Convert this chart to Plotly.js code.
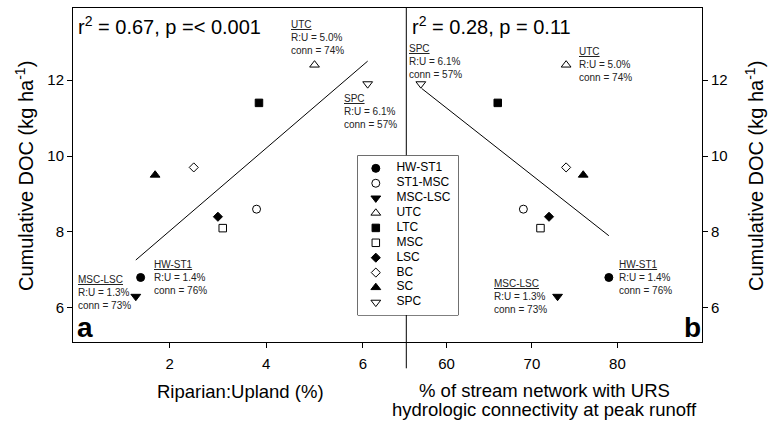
<!DOCTYPE html>
<html><head><meta charset="utf-8">
<script src="https://cdn.plot.ly/plotly-3.0.1.min.js"></script>
<style>html,body{margin:0;padding:0;background:#fff}#chart{width:775px;height:422px}</style>
</head><body><div id="chart"></div>
<script>
// ---- data ----
const sites = ['HW-ST1','ST1-MSC','MSC-LSC','UTC','LTC','MSC','LSC','BC','SC','SPC'];
const riparianUpland = [1.4, 3.8, 1.3, 5.0, 3.85, 3.1, 3.0, 2.5, 1.7, 6.1];
const connectivity = [79, 69, 73, 74, 66, 71, 72, 74, 76, 57];
const cumulativeDOC = [6.8, 8.6, 6.3, 12.4, 11.4, 8.1, 8.4, 9.7, 9.5, 11.9];
const fitRUx = [1.3, 6.1];
const fitRUy = [7.26, 12.5];
const fitConnX = [57.1, 79.0];
const fitConnY = [11.78, 7.9];
const xTicksRU = [2, 4, 6];
const xTicksConn = [60, 70, 80];
const yTicksDOC = [6, 8, 10, 12];
const statsRU = 'r<sup>2</sup> = 0.67, p =&lt; 0.001';
const statsConn = 'r<sup>2</sup> = 0.28, p = 0.11';
const labeledSites = ['UTC', 'SPC', 'HW-ST1', 'MSC-LSC'];
const labelRU = ['5.0', '6.1', '1.4', '1.3'];
const labelConn = ['74', '57', '76', '73'];
const xTitleRU = 'Riparian:Upland (%)';
const xTitleConn = ['% of stream network with URS', 'hydrologic connectivity at peak runoff'];
const yTitle = 'Cumulative DOC (kg ha<sup>-1</sup>)';

// ---- styles ----
const FONT = 'Liberation Sans, Arial, Helvetica, sans-serif';
const symbolOf = {
  'HW-ST1':'circle','ST1-MSC':'circle-open','MSC-LSC':'triangle-down','UTC':'triangle-up-open',
  'LTC':'square','MSC':'square-open','LSC':'diamond','BC':'diamond-open','SC':'triangle-up','SPC':'triangle-down-open'
};
const sizeOf = s => s.startsWith('circle') ? 8 : s.startsWith('square') ? 7.5 : s.startsWith('diamond') ? 7 : 8.5;
const syms = sites.map(s => symbolOf[s]);
const sizes = syms.map(sizeOf);
const marker = {symbol: syms, size: sizes, color: '#000', opacity: 1, line: {color: '#000', width: 1}};

// pixel -> paper helpers (plot area 73..702 x 8..342)
const L = 73, R = 702, T = 8, B = 342, W = R - L, H = B - T;
const px = v => (v - L) / W, py = v => (B - v) / H;
const split = px(406.3);

const traces = [
  {x: fitRUx, y: fitRUy, mode: 'lines', line: {color: '#000', width: 1}, xaxis: 'x', yaxis: 'y', hoverinfo: 'skip'},
  {x: riparianUpland, y: cumulativeDOC, mode: 'markers', marker: marker, text: sites, xaxis: 'x', yaxis: 'y', cliponaxis: false},
  {x: fitConnX, y: fitConnY, mode: 'lines', line: {color: '#000', width: 1}, xaxis: 'x2', yaxis: 'y2', hoverinfo: 'skip'},
  {x: connectivity, y: cumulativeDOC, mode: 'markers', marker: marker, text: sites, xaxis: 'x2', yaxis: 'y2', cliponaxis: false},
  // legend built on its own hidden axes
  {x: sites.map(() => 0.18), y: sites, mode: 'markers', marker: marker, xaxis: 'x3', yaxis: 'y3', cliponaxis: false},
  {x: sites.map(() => 0.385), y: sites, mode: 'text', text: sites, textposition: 'middle right',
   textfont: {family: FONT, size: 12, color: '#000'}, xaxis: 'x3', yaxis: 'y3', cliponaxis: false}
];

const axisBase = {
  showgrid: false, zeroline: false, showline: true, linecolor: '#000', linewidth: 1,
  ticks: 'outside', ticklen: 5, tickwidth: 1, tickcolor: '#000',
  tickfont: {family: FONT, size: 15, color: '#000'}, fixedrange: true
};

const ann = [];
const txt = (text, x, y, opts) => ann.push(Object.assign({
  text: text, xref: 'paper', yref: 'paper', x: px(x), y: py(y), showarrow: false, align: 'left',
  xanchor: 'left', yanchor: 'middle', font: {family: FONT, size: 10, color: '#222'}, borderpad: 0
}, opts || {}));

// stats
txt(statsRU, 77, 25, {font: {family: FONT, size: 20, color: '#000'}});
txt(statsConn, 411, 25, {font: {family: FONT, size: 20, color: '#000'}});

// site labels
const labelPosRU = {'UTC': [290, 37.5], 'SPC': [342.5, 111.5], 'HW-ST1': [153, 277.3], 'MSC-LSC': [76.5, 292.5]};
const labelPosConn = {'UTC': [578.3, 65], 'SPC': [407.5, 61.5], 'HW-ST1': [618.3, 277.7], 'MSC-LSC': [493, 296.7]};
labeledSites.forEach((s, i) => {
  const t = '<u>' + s + '</u><br>R:U = ' + labelRU[i] + '%<br>conn = ' + labelConn[i] + '%';
  txt(t, labelPosRU[s][0], labelPosRU[s][1]);
  txt(t, labelPosConn[s][0], labelPosConn[s][1]);
});

// panel letters
txt('<b>a</b>', 76, 343.5, {yanchor: 'bottom', font: {family: FONT, size: 28, color: '#000'}});
txt('<b>b</b>', 702, 344, {xanchor: 'right', yanchor: 'bottom', font: {family: FONT, size: 28, color: '#000'}});

// axis titles
const titleFont = {family: FONT, size: 18.5, color: '#000'};
txt(xTitleRU, 240, 391, {xanchor: 'center', align: 'center', font: titleFont});
txt(xTitleConn[0], 544, 390, {xanchor: 'center', align: 'center', font: titleFont});
txt(xTitleConn[1], 544, 409.3, {xanchor: 'center', align: 'center', font: titleFont});
txt(yTitle, 24, 176, {xanchor: 'center', align: 'center', textangle: -90, font: {family: FONT, size: 20, color: '#000'}});
txt(yTitle, 754, 176, {xanchor: 'center', align: 'center', textangle: -90, font: {family: FONT, size: 20, color: '#000'}});

const layout = {
  width: 775, height: 422,
  margin: {l: L, r: 775 - R, t: T, b: 422 - B, pad: 0},
  paper_bgcolor: '#fff', plot_bgcolor: '#fff',
  showlegend: false,
  font: {family: FONT, color: '#000'},
  xaxis: Object.assign({}, axisBase, {domain: [0, split], range: [0, 6.9], tickvals: xTicksRU, mirror: true, anchor: 'y', ticklabelstandoff: 3}),
  yaxis: Object.assign({}, axisBase, {domain: [0, 1], range: [5.1, 13.9], tickvals: yTicksDOC, anchor: 'x'}),
  xaxis2: Object.assign({}, axisBase, {domain: [split, 1], range: [55.3, 89.9], tickvals: xTicksConn, mirror: true, anchor: 'y2', ticklabelstandoff: 3}),
  yaxis2: Object.assign({}, axisBase, {domain: [0, 1], range: [5.1, 13.9], tickvals: yTicksDOC, side: 'right', anchor: 'x2'}),
  xaxis3: {domain: [px(357.7), px(458.3)], range: [0, 1], visible: false, fixedrange: true, anchor: 'y3'},
  yaxis3: {domain: [py(315), py(155.7)], type: 'category', range: [9.85, -0.85], visible: false, fixedrange: true, anchor: 'x3'},
  shapes: [
    {type: 'line', xref: 'paper', yref: 'paper', x0: split, x1: split, y0: py(368.3), y1: 1, line: {color: '#000', width: 1}, layer: 'below'},
    {type: 'rect', xref: 'paper', yref: 'paper', x0: px(357.7), x1: px(458.3), y0: py(315), y1: py(155.7),
     fillcolor: '#fff', line: {color: '#000', width: 1}, layer: 'below'}
  ],
  annotations: ann
};

Plotly.newPlot('chart', traces, layout, {staticPlot: true, displayModeBar: false});
</script>
</body></html>
